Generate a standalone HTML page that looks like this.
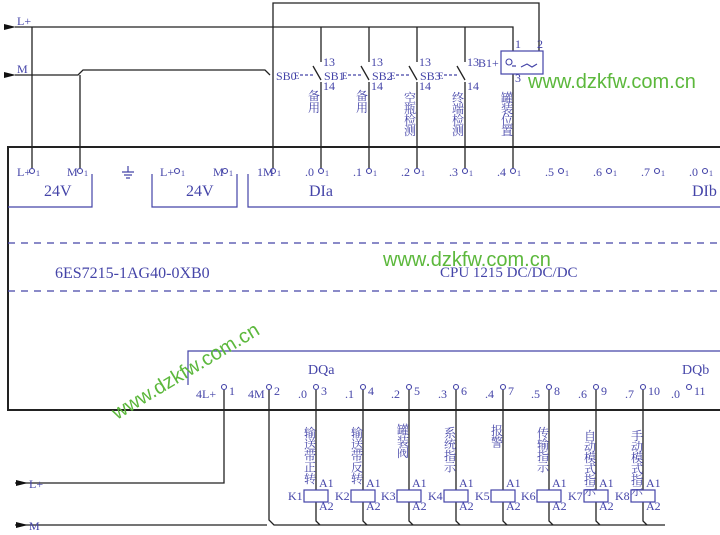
<!DOCTYPE html>
<html><head><meta charset="utf-8"><style>
body{margin:0;background:#fff}
svg{display:block}
.b{fill:#4444a8;font-family:"Liberation Serif","Noto Serif CJK SC",serif}
.c{fill:#4444a8;font-family:"Liberation Serif","Noto Serif CJK SC",serif;font-size:12px}
.g{fill:#5cb83c;font-family:"Liberation Sans","DejaVu Sans",sans-serif;font-size:20px}
</style></head><body>
<svg width="720" height="535" viewBox="0 0 720 535" xmlns="http://www.w3.org/2000/svg">
<g stroke="#222" stroke-width="1.3" fill="none">
<path d="M720 147 H8 V410 H720" stroke-width="2"/>
<path d="M15 27 H513 V51"/>
<path d="M15 75 H78 L83 70 H265 L270 75 M80 75 V168"/>
<path d="M32 27 V168"/>
<path d="M273 168 V3 H539 V51"/>
<path d="M321 27 V62 M313 66 L321 80 M321 82 V168"/>
<path d="M369 27 V62 M361 66 L369 80 M369 82 V168"/>
<path d="M417 27 V62 M409 66 L417 80 M417 82 V168"/>
<path d="M465 27 V62 M457 66 L465 80 M465 82 V168"/>
<path d="M513 74 V168"/>
<path d="M15 483 H224 V390"/>
<path d="M15 525 H267 M269 390 V520 L274 525 H665"/>
<path d="M316 390 V490 M316 502 V521 L320 525"/>
<path d="M363 390 V490 M363 502 V521 L367 525"/>
<path d="M409 390 V490 M409 502 V521 L413 525"/>
<path d="M456 390 V490 M456 502 V521 L460 525"/>
<path d="M503 390 V490 M503 502 V521 L507 525"/>
<path d="M549 390 V490 M549 502 V521 L553 525"/>
<path d="M596 390 V490 M596 502 V521 L600 525"/>
<path d="M643 390 V490 M643 502 V521 L647 525"/>
</g>
<g fill="#111">
<path d="M4 24 L16 27 L4 30Z"/><path d="M4 72 L16 75 L4 78Z"/>
<path d="M16 480 L28 483 L16 486Z"/><path d="M16 522 L28 525 L16 528Z"/>
</g>
<g stroke="#4444a8" stroke-width="1.2" fill="none">
<path d="M8 207 H92 V174 M152 174 V207 H237 V174 M248 174 V207 H720"/>
<path d="M8 243 H720 M8 291 H720" stroke-dasharray="7 6"/>
<path d="M188 385 V351 H720"/>
<rect x="501" y="51" width="42" height="23"/>
<path d="M521 67 L527 64 L532 67 L537 64 M512 66 h4"/>
<rect x="304" y="490" width="24" height="12"/><rect x="351" y="490" width="24" height="12"/>
<rect x="397" y="490" width="24" height="12"/><rect x="444" y="490" width="24" height="12"/>
<rect x="491" y="490" width="24" height="12"/><rect x="537" y="490" width="24" height="12"/>
<rect x="584" y="490" width="24" height="12"/><rect x="631" y="490" width="24" height="12"/>
<path d="M300 75 h14 M348 75 h14 M396 75 h14 M444 75 h14" stroke-dasharray="3 2"/>
<path d="M122 172 h12 M124 175 h8 M126 178 h4 M128 166 v6"/>
</g>
<g fill="#fff" stroke="#4444a8" stroke-width="1.1">
<circle cx="32" cy="171" r="2.5"/><circle cx="80" cy="171" r="2.5"/>
<circle cx="177" cy="171" r="2.5"/><circle cx="225" cy="171" r="2.5"/>
<circle cx="273" cy="171" r="2.5"/><circle cx="321" cy="171" r="2.5"/><circle cx="369" cy="171" r="2.5"/>
<circle cx="417" cy="171" r="2.5"/><circle cx="465" cy="171" r="2.5"/><circle cx="513" cy="171" r="2.5"/>
<circle cx="561" cy="171" r="2.5"/><circle cx="609" cy="171" r="2.5"/><circle cx="657" cy="171" r="2.5"/><circle cx="705" cy="171" r="2.5"/>
<circle cx="224" cy="387" r="2.5"/><circle cx="269" cy="387" r="2.5"/><circle cx="316" cy="387" r="2.5"/>
<circle cx="363" cy="387" r="2.5"/><circle cx="409" cy="387" r="2.5"/><circle cx="456" cy="387" r="2.5"/>
<circle cx="503" cy="387" r="2.5"/><circle cx="549" cy="387" r="2.5"/><circle cx="596" cy="387" r="2.5"/>
<circle cx="643" cy="387" r="2.5"/><circle cx="689" cy="387" r="2.5"/>
<circle cx="509" cy="62" r="3"/>
</g>
<g class="c">
<text x="17" y="25">L+</text><text x="17" y="73">M</text>
<text x="29" y="488">L+</text><text x="29" y="530">M</text>
<text x="17" y="176">L+</text><text x="36" y="176" font-size="8">1</text>
<text x="67" y="176">M</text><text x="84" y="176" font-size="8">1</text>
<text x="160" y="176">L+</text><text x="181" y="176" font-size="8">1</text>
<text x="213" y="176">M</text><text x="229" y="176" font-size="8">1</text>
<text x="257" y="176">1M</text><text x="277" y="176" font-size="8">1</text>
<text x="305" y="176">.0</text><text x="325" y="176" font-size="8">1</text>
<text x="353" y="176">.1</text><text x="373" y="176" font-size="8">1</text>
<text x="401" y="176">.2</text><text x="421" y="176" font-size="8">1</text>
<text x="449" y="176">.3</text><text x="469" y="176" font-size="8">1</text>
<text x="497" y="176">.4</text><text x="517" y="176" font-size="8">1</text>
<text x="545" y="176">.5</text><text x="565" y="176" font-size="8">1</text>
<text x="593" y="176">.6</text><text x="613" y="176" font-size="8">1</text>
<text x="641" y="176">.7</text><text x="661" y="176" font-size="8">1</text>
<text x="689" y="176">.0</text><text x="709" y="176" font-size="8">1</text>
<text x="276" y="80">SB0</text><text x="324" y="80">SB1</text><text x="372" y="80">SB2</text><text x="420" y="80">SB3</text><text x="478" y="67">B1+</text>
<text x="294" y="79" font-size="9">E</text><text x="342" y="79" font-size="9">E</text><text x="390" y="79" font-size="9">E</text><text x="438" y="79" font-size="9">E</text>
<text x="196" y="398">4L+</text><text x="248" y="398">4M</text>
<text x="298" y="398">.0</text><text x="345" y="398">.1</text><text x="391" y="398">.2</text><text x="438" y="398">.3</text>
<text x="485" y="398">.4</text><text x="531" y="398">.5</text><text x="578" y="398">.6</text><text x="625" y="398">.7</text><text x="671" y="398">.0</text>
<text x="288" y="500">K1</text><text x="335" y="500">K2</text><text x="381" y="500">K3</text><text x="428" y="500">K4</text>
<text x="475" y="500">K5</text><text x="521" y="500">K6</text><text x="568" y="500">K7</text><text x="615" y="500">K8</text>
</g>
<g class="c" font-size="8">
<text x="323" y="66">13</text><text x="323" y="90">14</text><text x="371" y="66">13</text><text x="371" y="90">14</text>
<text x="419" y="66">13</text><text x="419" y="90">14</text><text x="467" y="66">13</text><text x="467" y="90">14</text>
<text x="515" y="48">1</text><text x="537" y="48">2</text><text x="515" y="82">3</text>
<text x="229" y="395">1</text><text x="274" y="395">2</text><text x="321" y="395">3</text><text x="368" y="395">4</text>
<text x="414" y="395">5</text><text x="461" y="395">6</text><text x="508" y="395">7</text><text x="554" y="395">8</text>
<text x="601" y="395">9</text><text x="648" y="395">10</text><text x="694" y="395">11</text>
<text x="319" y="487">A1</text><text x="319" y="510">A2</text><text x="366" y="487">A1</text><text x="366" y="510">A2</text>
<text x="412" y="487">A1</text><text x="412" y="510">A2</text><text x="459" y="487">A1</text><text x="459" y="510">A2</text>
<text x="506" y="487">A1</text><text x="506" y="510">A2</text><text x="552" y="487">A1</text><text x="552" y="510">A2</text>
<text x="599" y="487">A1</text><text x="599" y="510">A2</text><text x="646" y="487">A1</text><text x="646" y="510">A2</text>
</g>
<g class="b" font-size="16">
<text x="44" y="196">24V</text><text x="186" y="196">24V</text><text x="309" y="196">DIa</text><text x="692" y="196">DIb</text>
<text x="55" y="278">6ES7215-1AG40-0XB0</text><text x="440" y="277" font-size="15">CPU 1215 DC/DC/DC</text>
<text x="308" y="374" font-size="14">DQa</text><text x="682" y="374" font-size="14">DQb</text>
</g>
<g class="b" font-size="12" text-anchor="middle">
<text x="314" y="100">备</text><text x="314" y="112">用</text>
<text x="362" y="100">备</text><text x="362" y="112">用</text>
<text x="410" y="102">空</text><text x="410" y="113">瓶</text><text x="410" y="124">检</text><text x="410" y="135">测</text>
<text x="458" y="102">终</text><text x="458" y="113">端</text><text x="458" y="124">检</text><text x="458" y="135">测</text>
<text x="507" y="102">罐</text><text x="507" y="113">装</text><text x="507" y="124">位</text><text x="507" y="135">置</text>
<text x="310" y="437">输</text><text x="310" y="448.5">送</text><text x="310" y="460">带</text><text x="310" y="471.5">正</text><text x="310" y="483">转</text>
<text x="357" y="437">输</text><text x="357" y="448.5">送</text><text x="357" y="460">带</text><text x="357" y="471.5">反</text><text x="357" y="483">转</text>
<text x="403" y="434">罐</text><text x="403" y="445.5">装</text><text x="403" y="457">阀</text>
<text x="450" y="437">系</text><text x="450" y="448.5">统</text><text x="450" y="460">指</text><text x="450" y="471.5">示</text>
<text x="497" y="435">报</text><text x="497" y="446.5">警</text>
<text x="543" y="437">传</text><text x="543" y="448.5">输</text><text x="543" y="460">指</text><text x="543" y="471.5">示</text>
<text x="590" y="440">自</text><text x="590" y="451">动</text><text x="590" y="462">模</text><text x="590" y="473">式</text><text x="590" y="484">指</text><text x="590" y="495">示</text>
<text x="637" y="440">手</text><text x="637" y="451">动</text><text x="637" y="462">模</text><text x="637" y="473">式</text><text x="637" y="484">指</text><text x="637" y="495">示</text>
</g>
<g class="g">
<text x="528" y="88">www.dzkfw.com.cn</text>
<text x="383" y="266">www.dzkfw.com.cn</text>
<text x="0" y="0" transform="translate(117 420) rotate(-31)">www.dzkfw.com.cn</text>
</g>
</svg>
</body></html>
